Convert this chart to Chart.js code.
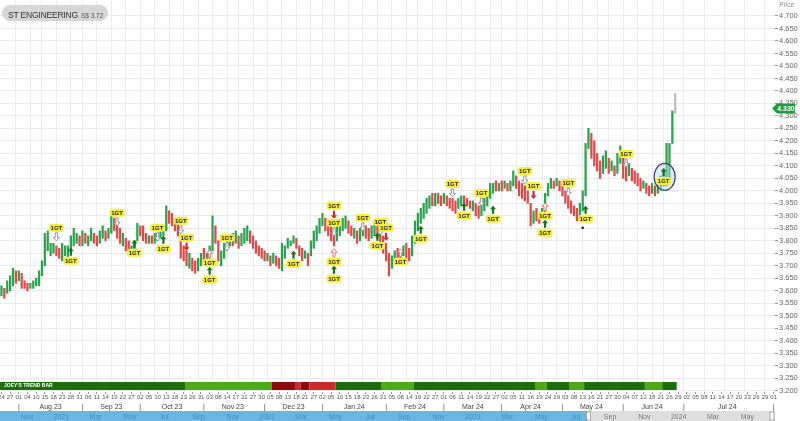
<!DOCTYPE html>
<html><head><meta charset="utf-8">
<script src="https://cdn.jsdelivr.net/npm/chart.js@4.4.0/dist/chart.umd.min.js"></script>
<style>
html,body{margin:0;padding:0;background:#fff;}
#wrap{position:relative;width:800px;height:421px;overflow:hidden;}
#title{position:absolute;left:2px;top:5px;height:16px;line-height:16px;padding:0 5px 0 6px;border-radius:8px;background:#d6d6d6;font-family:'Liberation Sans',Arial,sans-serif;color:#333;white-space:nowrap;}
#title .n{font-size:8.6px;letter-spacing:-0.25px;}
#title .p{font-size:6.5px;color:#555;margin-left:3px;}
#ptitle{position:absolute;right:6px;top:1px;font:6.5px 'Liberation Sans',Arial,sans-serif;color:#888;}
</style></head><body>
<div id="wrap"><canvas id="c" width="800" height="421"></canvas>
<div id="title"><span class="n">ST ENGINEERING</span><span class="p">S$ 3.72</span></div>
<div id="ptitle">Price</div></div>
<script>
// ---------- categories ----------
const startDate = '2023-07-24';
const lastTradeDate = '2024-06-28';
const axisEndDate = '2024-08-01';
const holidays = ['2023-08-09','2023-09-01','2023-11-13','2023-12-25','2024-01-01','2024-02-12','2024-03-29','2024-04-10','2024-05-01','2024-05-22','2024-06-17'];
const monthNames = ['Jan','Feb','Mar','Apr','May','Jun','Jul','Aug','Sep','Oct','Nov','Dec'];

// ---------- series values (daily bar low / high, direction) ----------
const lows = [
3.58,3.57,3.59,3.60,3.62,3.63,3.64,3.61,3.61,3.60,
3.61,3.61,3.62,3.62,3.66,3.70,3.76,3.74,3.75,3.74,
3.73,3.72,3.74,3.73,3.76,3.78,3.79,3.78,3.78,3.79,
3.78,3.80,3.79,3.78,3.79,3.81,3.80,3.81,3.83,3.84,
3.81,3.79,3.78,3.76,3.75,3.74,3.76,3.80,3.82,3.80,
3.79,3.79,3.79,3.79,3.80,3.81,3.82,3.84,3.87,3.86,
3.84,3.82,3.73,3.72,3.70,3.69,3.68,3.67,3.68,3.70,
3.72,3.71,3.73,3.76,3.79,3.72,3.70,3.73,3.76,3.78,
3.78,3.79,3.77,3.78,3.79,3.80,3.79,3.77,3.75,3.74,
3.73,3.72,3.72,3.70,3.71,3.70,3.69,3.68,3.73,3.77,
3.78,3.79,3.77,3.74,3.72,3.73,3.70,3.74,3.77,3.80,
3.83,3.86,3.84,3.82,3.80,3.78,3.80,3.82,3.84,3.85,
3.83,3.82,3.81,3.79,3.80,3.82,3.81,3.80,3.81,3.82,
3.81,3.79,3.75,3.72,3.66,3.69,3.71,3.72,3.73,3.74,
3.73,3.72,3.74,3.79,3.84,3.87,3.89,3.91,3.93,3.94,
3.94,3.95,3.94,3.95,3.94,3.93,3.92,3.91,3.93,3.94,
3.95,3.94,3.93,3.92,3.90,3.89,3.90,3.92,3.94,3.97,
3.99,4.00,4.00,4.00,4.01,4.00,4.00,4.02,4.01,3.98,
3.97,3.96,3.95,3.86,3.87,3.88,3.87,3.89,3.90,3.98,
4.01,4.01,4.02,4.00,3.98,3.95,3.93,3.91,3.90,3.88,
3.89,3.92,3.98,4.17,4.13,4.10,4.08,4.05,4.07,4.09,
4.07,4.08,4.06,4.07,4.11,4.05,4.04,4.06,4.04,4.03,
4.02,4.00,4.01,3.99,3.98,3.99,3.98,3.99,4.01,4.02,
4.02,4.04,4.19,4.31];
const highs = [
3.62,3.61,3.64,3.66,3.69,3.68,3.68,3.67,3.64,3.63,
3.63,3.64,3.65,3.68,3.72,3.83,3.84,3.79,3.79,3.78,
3.77,3.79,3.78,3.78,3.82,3.85,3.83,3.82,3.84,3.83,
3.82,3.85,3.83,3.82,3.84,3.86,3.84,3.85,3.90,3.89,
3.87,3.85,3.83,3.81,3.80,3.78,3.80,3.87,3.86,3.86,
3.83,3.82,3.82,3.83,3.83,3.84,3.84,3.94,3.92,3.91,
3.89,3.87,3.82,3.78,3.76,3.75,3.73,3.72,3.73,3.75,
3.77,3.75,3.78,3.90,3.86,3.80,3.76,3.79,3.81,3.82,
3.83,3.84,3.82,3.83,3.85,3.86,3.84,3.82,3.80,3.78,
3.77,3.76,3.75,3.74,3.75,3.74,3.73,3.79,3.78,3.81,
3.80,3.82,3.81,3.78,3.77,3.76,3.75,3.80,3.84,3.86,
3.89,3.91,3.89,3.87,3.86,3.84,3.86,3.88,3.89,3.90,
3.88,3.86,3.85,3.84,3.85,3.87,3.86,3.85,3.86,3.87,
3.86,3.84,3.82,3.79,3.75,3.74,3.76,3.77,3.76,3.78,
3.79,3.77,3.82,3.88,3.91,3.93,3.95,3.97,3.98,3.99,
3.99,3.99,3.98,3.99,3.98,3.97,3.97,3.96,3.97,3.98,
3.98,3.97,3.96,3.96,3.95,3.94,3.95,3.97,4.00,4.03,
4.03,4.04,4.03,4.04,4.04,4.03,4.04,4.08,4.06,4.04,
4.03,4.02,4.00,3.95,3.92,3.93,3.91,3.93,3.99,4.03,
4.05,4.04,4.05,4.04,4.03,4.00,3.98,3.96,3.94,3.93,
3.95,4.00,4.19,4.25,4.23,4.20,4.15,4.12,4.14,4.16,
4.13,4.12,4.10,4.15,4.18,4.14,4.12,4.11,4.09,4.08,
4.07,4.05,4.04,4.03,4.02,4.03,4.02,4.04,4.06,4.08,
4.19,4.19,4.32,4.39];
const directions = (
'GRGGGRGRRR'+'GGGGGGGGGR'+'RGGGGGGRGR'+'GGRRGGRGGR'+'RRGRRGGGRR'+
'RGRGGGGGRR'+'RRRRRGRRGG'+'RGGGRRGGGG'+'RGRGGGRRRR'+'RRGRGRRGGG'+
'GGRRRGRGGG'+'GGRRRRGGGG'+'RRGRGGRRGG'+'RRRRRGGRGG'+'RRGGGGGGGR'+
'GRRGRRRRGG'+'RRRGRRGGGG'+'GRGRGRGGRR'+'RRRRGRRGGG'+'GRGRRRRRRR'+
'GGGGRRRRGG'+'RGRGGRRGRR'+'RRGRRGRGGG'+'GGGN').split('');
const lastPrice = 4.330;

// ---------- tick labels ----------
const priceTicks = [4.700,4.650,4.600,4.550,4.500,4.450,4.400,4.350,4.300,4.250,4.200,4.150,4.100,4.050,4.000,3.950,3.900,3.850,3.800,3.750,3.700,3.650,3.600,3.550,3.500,3.450,3.400,3.350,3.300,3.250,3.200];
const navLabels = ['Nov','2021','Mar','May','Jul','Sep','Nov','2022','Mar','May','Jul','Sep','Nov','2023','Mar','May','Jul','Sep','Nov','2024','Mar','May'];

// ---------- trend bar states (run lengths in bars) ----------
const trendLengths = [64,30,8,2,3,9,16,11,42,4,8,5,21,6,5];
const trendStates  = ['dg','lg','dr','r','dr','r','dg','lg','dg','lg','dg','lg','dg','lg','dg'];

// ---------- 1GT signals ----------
const sigIndex = [19,24,40,46,54,56,62,64,72,72,78,101,115,115,115,115,125,131,133,130,138,145,156,160,166,170,181,184,188,188,196,202,216,229];
const sigKind  = ['sd','gu','sd','gu','sd','gu','sd','rd','hu','gu','sd','gu','rd','sd','hu','gu','sd','sd','rd','gu','hu','gu','sd','gu','sd','gu','sd','rd','hu','gu','sd','gu','sd','gu'];
const sigLevel = [3.852,3.72,3.912,3.752,3.852,3.768,3.88,3.812,3.712,3.644,3.812,3.708,3.94,3.872,3.716,3.648,3.892,3.876,3.852,3.78,3.716,3.808,4.028,3.90,3.992,3.888,4.08,4.02,3.90,3.832,4.032,3.888,4.148,4.04];
const circleIndex = 229, circleLevel = 4.056;
const dotIndex = 201, dotLevel = 3.852;

// ---------- build slots ----------
const DAY = 86400000;
function parseD(s){const p=s.split('-').map(Number);return Date.UTC(p[0],p[1]-1,p[2]);}
function fmtD(t){return new Date(t).toISOString().slice(0,10);}
const slots = [];
for(let t=parseD(startDate);t<=parseD(lastTradeDate);t+=DAY){
  const wd=new Date(t).getUTCDay(); const s=fmtD(t);
  if(wd===0||wd===6||holidays.includes(s)) continue;
  slots.push(s);
}
for(let t=parseD(lastTradeDate)+DAY;t<=parseD(axisEndDate);t+=DAY) slots.push(fmtD(t));
const weekNo = slots.map(s=>Math.floor((parseD(s)/DAY+3)/7));
const weekStart = slots.map((s,i)=>i>0 && weekNo[i]!==weekNo[i-1]);
const monthKey = slots.map(s=>s.slice(0,7));
const monthStart = slots.map((s,i)=>i>0 && monthKey[i]!==monthKey[i-1]);
const spans = {};
monthKey.forEach((k,i)=>{ if(!spans[k]) spans[k]=[i,i]; else spans[k][1]=i; });
const monthCenter = {};
Object.keys(spans).forEach(k=>{ const [a,b]=spans[k]; if(b-a+1>=10){ const m=+k.slice(5,7); monthCenter[Math.round((a+b)/2)] = monthNames[m-1]+' '+k.slice(2,4);} });

const GREEN='#2aa24e', RED='#de4a4a', GRAY='#bdbdbd';
const barData = lows.map((l,i)=>[l,highs[i]]);
const barColors = directions.map(d=>d==='G'?GREEN:(d==='R'?RED:GRAY));
const trendColors = {dg:'#1b6d0d', lg:'#4cab14', dr:'#8e0b0b', r:'#cb2a2c'};

const FONT = "'Liberation Sans', Arial, sans-serif";
Chart.defaults.font.family = FONT;

function rr(ctx,x,y,w,h,r){ctx.beginPath();ctx.moveTo(x+r,y);ctx.lineTo(x+w-r,y);ctx.arcTo(x+w,y,x+w,y+r,r);ctx.lineTo(x+w,y+h-r);ctx.arcTo(x+w,y+h,x+w-r,y+h,r);ctx.lineTo(x+r,y+h);ctx.arcTo(x,y+h,x,y+h-r,r);ctx.lineTo(x,y+r);ctx.arcTo(x,y,x+r,y,r);ctx.closePath();}
function arrow(ctx,cx,cy,up,fill,stroke){
  const s = up?-1:1;
  ctx.beginPath();
  ctx.moveTo(cx, cy+s*4);
  ctx.lineTo(cx+3, cy+s*0.5);
  ctx.lineTo(cx+1.1, cy+s*0.5);
  ctx.lineTo(cx+1.1, cy-s*4);
  ctx.lineTo(cx-1.1, cy-s*4);
  ctx.lineTo(cx-1.1, cy+s*0.5);
  ctx.lineTo(cx-3, cy+s*0.5);
  ctx.closePath();
  ctx.fillStyle=fill; ctx.fill();
  if(stroke){ctx.strokeStyle=stroke;ctx.lineWidth=0.9;ctx.stroke();}
}

const overlay = {
  id:'overlay',
  afterDatasetsDraw(chart){
    const {ctx, chartArea:a, scales:{x,y}} = chart;
    const w = x.getPixelForValue(1)-x.getPixelForValue(0);
    ctx.save();
    // trend bar
    let s=0; const ty=a.bottom-10, th=8;
    trendLengths.forEach((n,i)=>{
      const x0=x.getPixelForValue(s)-w/2, x1=x.getPixelForValue(s+n-1)+w/2;
      ctx.fillStyle=trendColors[trendStates[i]];
      ctx.fillRect(Math.max(a.left,x0),ty,x1-Math.max(a.left,x0),th);
      s+=n;
    });
    ctx.fillStyle='#fff'; ctx.font='bold 5px '+FONT; ctx.textAlign='left'; ctx.textBaseline='middle';
    ctx.fillText("JOEY'S TREND BAR", a.left+4, ty+th/2);
    // highlight ellipse
    ctx.beginPath();
    ctx.ellipse(x.getPixelForValue(circleIndex)+1, y.getPixelForValue(circleLevel), 10.5, 13.5, 0, 0, Math.PI*2);
    ctx.fillStyle='rgba(180,212,236,0.45)'; ctx.fill();
    ctx.strokeStyle='#34426a'; ctx.lineWidth=1.2; ctx.stroke();
    // signals
    sigIndex.forEach((idx,i)=>{
      const cx=x.getPixelForValue(idx), cy=y.getPixelForValue(sigLevel[i]);
      const k=sigKind[i];
      if(k==='gu') arrow(ctx,cx,cy-9,true,'#17701a',null);
      else if(k==='rd') arrow(ctx,cx,cy+9,false,'#d52b2b',null);
      else if(k==='sd') arrow(ctx,cx,cy+9,false,'#ffffff','#8c8c8c');
      else if(k==='hu') arrow(ctx,cx,cy-9,true,'#ffffff','#e06a6a');
      ctx.fillStyle='#f5ee3c';
      rr(ctx,cx-7.5,cy-4,15,8,3); ctx.fill();
      ctx.fillStyle='#222'; ctx.font='bold 6px '+FONT; ctx.textAlign='center'; ctx.textBaseline='middle';
      ctx.fillText('1GT',cx,cy+0.5);
    });
    // dot
    ctx.beginPath(); ctx.arc(x.getPixelForValue(dotIndex), y.getPixelForValue(dotLevel), 1.3, 0, Math.PI*2);
    ctx.fillStyle='#222'; ctx.fill();
    ctx.restore();
  },
  afterDraw(chart){
    const {ctx, chartArea:a, scales:{y}} = chart;
    ctx.save();
    // last price tag
    const yy = y.getPixelForValue(lastPrice), x0 = a.right-3;
    ctx.beginPath(); ctx.moveTo(x0,yy); ctx.lineTo(x0+5,yy-5); ctx.lineTo(x0+23,yy-5); ctx.lineTo(x0+23,yy+5); ctx.lineTo(x0+5,yy+5); ctx.closePath();
    ctx.fillStyle='#1f9b3d'; ctx.fill();
    ctx.fillStyle='#fff'; ctx.font='bold 7px '+FONT; ctx.textAlign='center'; ctx.textBaseline='middle';
    ctx.fillText(lastPrice.toFixed(3), x0+14, yy+0.5);
    // navigator strip
    const nt=411, nb=421;
    const navX = m => 27 + m*17.15;
    const sd=new Date(parseD(startDate));
    const mStart=(sd.getUTCFullYear()-2020)*12+(sd.getUTCMonth()-10)+(sd.getUTCDate()-1)/31;
    const selX = navX(mStart);
    ctx.fillStyle='#69b6e2'; ctx.fillRect(0,nt,selX,nb-nt);
    ctx.fillStyle='#dedede'; ctx.fillRect(selX,nt,a.right-selX,nb-nt);
    ctx.font='7px '+FONT; ctx.textBaseline='middle'; ctx.textAlign='center';
    navLabels.forEach((t,i)=>{ const px=navX(i*2); ctx.fillStyle = px<selX ? '#4b8fc3' : '#7a7a7a'; ctx.fillText(t,px,(nt+nb)/2+1); });
    [selX, a.right-3].forEach(hx=>{ ctx.fillStyle='#fff'; ctx.fillRect(hx-2,nt+1,4,8); ctx.strokeStyle='#999'; ctx.lineWidth=0.8; ctx.strokeRect(hx-2,nt+1,4,8); });
    ctx.restore();
  }
};

new Chart(document.getElementById('c'), {
  type:'bar',
  data:{ labels: slots, datasets:[{ data: barData, backgroundColor: barColors, borderWidth:0, barThickness:1.6, xAxisID:'x', yAxisID:'y' }] },
  options:{
    responsive:false, animation:false, devicePixelRatio:1,
    layout:{ padding:{ left:0, right:0, top:0, bottom:10 } },
    plugins:{ legend:{display:false}, tooltip:{enabled:false} },
    scales:{
      x:{ type:'category', position:'bottom', offset:true, weight:0,
        border:{display:false},
        grid:{ offset:false, drawOnChartArea:true, tickLength:2,
          color: c => weekStart[c.index] ? '#ececec' : 'rgba(0,0,0,0)',
          tickColor: c => (c.index%3===0) ? '#999' : 'rgba(0,0,0,0)' },
        ticks:{ autoSkip:false, maxRotation:0, minRotation:0, padding:0, color:'#555', font:{size:6},
          callback:(v,i)=> i%3===0 ? slots[i].slice(8,10) : '' },
        afterFit:s=>{ s.height=11; s.paddingLeft=0; s.paddingRight=0; } },
      x2:{ type:'category', position:'bottom', offset:true, weight:1,
        border:{display:false},
        grid:{ display:false, drawTicks:false },
        ticks:{ autoSkip:false, maxRotation:0, minRotation:0, padding:0, color:'#444', font:{size:7},
          callback:(v,i)=> monthStart[i] ? '|' : (monthCenter[i] || '') },
        afterFit:s=>{ s.height=8; s.paddingLeft=0; s.paddingRight=0; } },
      y:{ type:'linear', position:'right', min:3.195, max:4.764,
        border:{display:false},
        grid:{ color:'#ebebeb', tickColor:'#999', tickLength:3 },
        afterBuildTicks:s=>{ s.ticks = priceTicks.map(v=>({value:v})); },
        ticks:{ autoSkip:false, padding:1, color:'#666', font:{size:7.5}, callback:v=>Number(v).toFixed(3) },
        afterFit:s=>{ s.width=25; s.paddingTop=0; s.paddingBottom=0; } }
    }
  },
  plugins:[overlay]
});
</script>
</body></html>
